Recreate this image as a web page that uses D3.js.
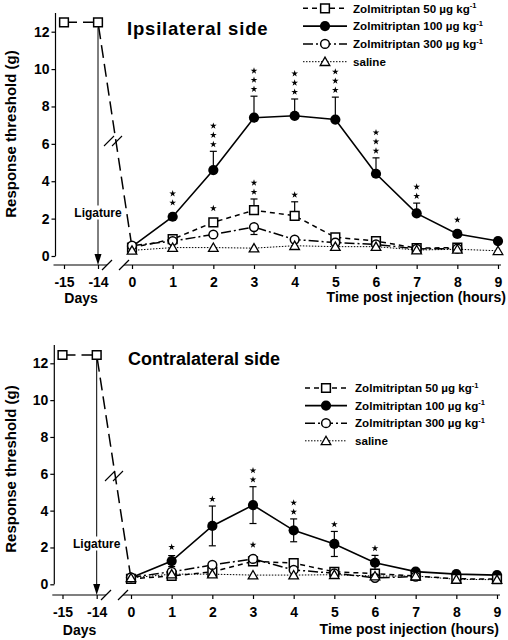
<!DOCTYPE html>
<html><head><meta charset="utf-8">
<script src="https://cdn.jsdelivr.net/npm/d3@7"></script>
<style>
body{margin:0;background:#fff;}
svg text{font-family:"Liberation Sans",Arial,Helvetica,sans-serif;font-weight:bold;fill:#000;}
</style></head><body>
<svg id="chart" width="508" height="640"></svg>
<script>
// ---------------- DATA ----------------
const dayTicks = [-15, -14];
const hourTicks = [0, 1, 2, 3, 4, 5, 6, 7, 8, 9];
const xTickLabels = ["-15", "-14", "0", "1", "2", "3", "4", "5", "6", "7", "8", "9"];
const yTicks = [0, 2, 4, 6, 8, 10, 12];
const legendLabels = ["Zolmitriptan 50 µg kg", "Zolmitriptan 100 µg kg", "Zolmitriptan 300 µg kg", "saline"];
const legendSup = ["-1", "-1", "-1", ""];
const panelTitles = ["Ipsilateral side", "Contralateral side"];
const yLabel = "Response threshold (g)";
const xLabelDays = "Days";
const xLabelHours = "Time post injection (hours)";
const annotation = "Ligature";

// Ipsilateral side
const ipsiBaseline50 = [12.5, 12.5];           // days -15, -14
const ipsi50 = [0.45, 0.9, 1.8, 2.45, 2.15, 1.0, 0.8, 0.42, 0.45];        // hours 0..8
const ipsi50ErrUp = [0, 0, 0, 0.6, 0.75, 0, 0, 0, 0];
const ipsi50Stars = [0, 0, 1, 2, 1, 0, 0, 0, 0];
const ipsi100 = [0.5, 2.1, 4.6, 7.4, 7.5, 7.3, 4.4, 2.28, 1.18, 0.8];     // hours 0..9
const ipsi100ErrUp = [0, 0, 1.0, 1.15, 0.9, 1.2, 0.85, 0.55, 0, 0];
const ipsi100Stars = [0, 2, 3, 3, 3, 3, 3, 2, 1, 0];
const ipsi300 = [0.55, 0.8, 1.15, 1.55, 0.88, 0.72, 0.62, 0.38, 0.4];    // hours 0..8
const ipsi300ErrDown = [0, 0, 0, 0.4, 0, 0, 0, 0, 0];
const ipsiSaline = [0.3, 0.45, 0.45, 0.42, 0.55, 0.5, 0.5, 0.32, 0.36, 0.28];

// Contralateral side
const contraBaseline50 = [12.45, 12.45];
const contra50 = [0.3, 0.45, 0.68, 1.25, 1.15, 0.68, 0.58, 0.45, 0.3, 0.28];
const contra100 = [0.35, 1.26, 3.17, 4.3, 2.93, 2.19, 1.17, 0.69, 0.55, 0.5];
const contra100Err = [0, 0.3, 1.08, 1.0, 0.62, 0.68, 0.4, 0, 0, 0];
const contra100Stars = [0, 1, 1, 2, 2, 1, 1, 0, 0, 0];
const contra300 = [0.38, 0.68, 1.05, 1.38, 0.78, 0.6, 0.35, 0.42];
const contra300Stars = [0, 0, 0, 1, 0, 0, 0, 0];
const contraSaline = [0.35, 0.55, 0.55, 0.5, 0.5, 0.52, 0.45, 0.45, 0.27, 0.25];

// ---------------- BUILD ----------------
function mk(vals, up, down, stars) {
  return vals.map((v, i) => ({h: hourTicks[i], v, up: up ? up[i] : 0, down: down ? down[i] : 0, stars: stars ? stars[i] : 0}));
}
const panels = [
  {
    title: panelTitles[0],
    layout: {x: [64, 98, 132, 498], y0: 256, y12: 31.7, yAxisX: 55.5, xAxisY: 265,
             titleX: 127, titleY: 35, titleSize: 18.5, titleSpacing: 0.8,
             yLabelY: 134, daysY: 303, hoursY: 302, hoursX: 506,
             legX0: 303, legX1: 347, legTX: 353, legY: 8.3, legDY: 17.8,
             ligY: 212, lineBreak: {cx: 113, cy: 141}, axisBreak: [107, 124]},
    baseline: dayTicks.map((d, i) => ({h: d, v: ipsiBaseline50[i]})),
    s50: mk(ipsi50, ipsi50ErrUp, null, ipsi50Stars),
    s100: mk(ipsi100, ipsi100ErrUp, null, ipsi100Stars),
    s300: mk(ipsi300, null, ipsi300ErrDown, null),
    sal: mk(ipsiSaline)
  },
  {
    title: panelTitles[1],
    layout: {x: [62.5, 96.7, 131, 497], y0: 584.3, y12: 363.3, yAxisX: 54.3, xAxisY: 595,
             titleX: 128, titleY: 365, titleSize: 18, titleSpacing: 0,
             yLabelY: 469, daysY: 635, hoursY: 634, hoursX: 499,
             legX0: 305, legX1: 347, legTX: 355, legY: 388, legDY: 17.6,
             ligY: 543, lineBreak: {cx: 114, cy: 476}, axisBreak: [106, 123]},
    baseline: dayTicks.map((d, i) => ({h: d, v: contraBaseline50[i]})),
    s50: mk(contra50),
    s100: mk(contra100, contra100Err, contra100Err, contra100Stars),
    s300: mk(contra300, null, null, contra300Stars),
    sal: mk(contraSaline)
  }
];

const styles = {
  s50: {dash: "5,4", width: 1.5, marker: "square"},
  s100: {dash: null, width: 1.6, marker: "filled"},
  s300: {dash: "10,3,2,3", width: 1.5, marker: "open"},
  sal: {dash: "1.5,1.5", width: 1, marker: "tri"}
};

const svg = d3.select("#chart");
const symSquare = d3.symbol(d3.symbolSquare, 76)();
const symCircleF = d3.symbol(d3.symbolCircle, 82)();
const symCircleO = d3.symbol(d3.symbolCircle, 60)();
const symTri = d3.symbol(d3.symbolTriangle, 40)();
const symStar = d3.symbol(d3.symbolStar, 14)();

function marker(g, type, cx, cy) {
  const t = `translate(${cx},${cy})`;
  if (type === "square") g.append("path").attr("d", symSquare).attr("transform", t).attr("fill", "#fff").attr("stroke", "#000").attr("stroke-width", 1.5);
  else if (type === "filled") g.append("path").attr("d", symCircleF).attr("transform", t).attr("fill", "#000");
  else if (type === "open") g.append("path").attr("d", symCircleO).attr("transform", t).attr("fill", "#fff").attr("stroke", "#000").attr("stroke-width", 1.5);
  else g.append("path").attr("d", symTri).attr("transform", `translate(${cx},${cy + 1})`).attr("fill", "#fff").attr("stroke", "#000").attr("stroke-width", 1.3);
}

panels.forEach(P => {
  const L = P.layout;
  const g = svg.append("g");
  const x = d3.scaleLinear().domain([-15, -14, 0, 9]).range(L.x);
  const y = d3.scaleLinear().domain([0, 12]).range([L.y0, L.y12]);

  // Y axis
  const ya = g.append("g").attr("transform", `translate(${L.yAxisX},0)`)
    .call(d3.axisLeft(y).tickValues(yTicks).tickSize(4).tickPadding(2));
  ya.select(".domain").remove();
  ya.attr("font-size", 14).attr("font-family", null);
  ya.selectAll(".tick line").attr("stroke-width", 1.2);
  g.append("line").attr("x1", L.yAxisX).attr("x2", L.yAxisX).attr("y1", y(0)).attr("y2", y(13))
    .attr("stroke", "#000").attr("stroke-width", 1.2);

  // X axis
  const xa = g.append("g").attr("transform", `translate(0,${L.xAxisY})`)
    .call(d3.axisBottom(x).tickValues(dayTicks.concat(hourTicks)).tickSize(4).tickPadding(8)
      .tickFormat((d, i) => xTickLabels[i]));
  xa.select(".domain").remove();
  xa.attr("font-size", 14).attr("font-family", null);
  xa.selectAll(".tick line").attr("stroke-width", 1.2);
  g.append("line").attr("x1", L.yAxisX - 2).attr("x2", L.axisBreak[0]).attr("y1", L.xAxisY).attr("y2", L.xAxisY)
    .attr("stroke", "#000").attr("stroke-width", 1.2);
  g.append("line").attr("x1", L.axisBreak[1]).attr("x2", x(9) + 3).attr("y1", L.xAxisY).attr("y2", L.xAxisY)
    .attr("stroke", "#000").attr("stroke-width", 1.2);
  L.axisBreak.forEach(bx => {
    g.append("line").attr("x1", bx - 5).attr("x2", bx + 5).attr("y1", L.xAxisY + 5).attr("y2", L.xAxisY - 5)
      .attr("stroke", "#000").attr("stroke-width", 1.2);
  });

  // axis labels
  g.append("text").attr("transform", `translate(16,${L.yLabelY}) rotate(-90)`).attr("text-anchor", "middle")
    .attr("font-size", 15).text(yLabel);
  g.append("text").attr("x", (x(-15) + x(-14)) / 2).attr("y", L.daysY).attr("text-anchor", "middle")
    .attr("font-size", 14).text(xLabelDays);
  g.append("text").attr("x", L.hoursX).attr("y", L.hoursY).attr("text-anchor", "end")
    .attr("font-size", 14).text(xLabelHours);
  g.append("text").attr("x", L.titleX).attr("y", L.titleY).attr("font-size", L.titleSize)
    .attr("letter-spacing", L.titleSpacing).text(P.title);

  // Ligature arrow
  const ligX = x(-14);
  g.append("line").attr("x1", ligX).attr("x2", ligX).attr("y1", y(P.baseline[1].v) + 5).attr("y2", L.xAxisY - 8)
    .attr("stroke", "#000").attr("stroke-width", 1);
  g.append("path").attr("d", `M${ligX - 3.5},${L.xAxisY - 11}L${ligX + 3.5},${L.xAxisY - 11}L${ligX},${L.xAxisY}Z`)
    .attr("fill", "#000");
  const ligRect = g.append("rect").attr("fill", "#fff");
  const lt = g.append("text").attr("x", ligX).attr("y", L.ligY + 4.5).attr("text-anchor", "middle")
    .attr("font-size", 12).text(annotation);
  const bb = lt.node().getBBox();
  ligRect.attr("x", bb.x - 1).attr("y", bb.y).attr("width", bb.width + 2).attr("height", bb.height);

  const line = d3.line().x(d => x(d.h)).y(d => y(d.v));

  // pre-ligature long dashed line
  g.append("path").attr("d", line(P.baseline.concat([P.s50[0]]))).attr("fill", "none").attr("stroke", "#000")
    .attr("stroke-width", 1.5).attr("stroke-dasharray", "13,6");
  // break mark on that line
  [-4, 4].forEach(o => {
    g.append("line").attr("x1", L.lineBreak.cx + o - 5).attr("x2", L.lineBreak.cx + o + 5)
      .attr("y1", L.lineBreak.cy + 5).attr("y2", L.lineBreak.cy - 5).attr("stroke", "#000").attr("stroke-width", 1.1);
  });

  // series lines
  ["sal", "s300", "s50", "s100"].forEach(k => {
    const st = styles[k];
    g.append("path").attr("d", line(P[k])).attr("fill", "none").attr("stroke", "#000")
      .attr("stroke-width", st.width).attr("stroke-dasharray", st.dash);
  });

  // error bars + stars
  ["s50", "s100", "s300"].forEach(k => {
    P[k].forEach(d => {
      const cx = x(d.h);
      if (d.up > 0) {
        g.append("line").attr("x1", cx).attr("x2", cx).attr("y1", y(d.v)).attr("y2", y(d.v + d.up)).attr("stroke", "#000").attr("stroke-width", 1.2);
        g.append("line").attr("x1", cx - 3.5).attr("x2", cx + 3.5).attr("y1", y(d.v + d.up)).attr("y2", y(d.v + d.up)).attr("stroke", "#000").attr("stroke-width", 1.2);
      }
      if (d.down > 0) {
        g.append("line").attr("x1", cx).attr("x2", cx).attr("y1", y(d.v)).attr("y2", y(d.v - d.down)).attr("stroke", "#000").attr("stroke-width", 1.2);
        g.append("line").attr("x1", cx - 3.5).attr("x2", cx + 3.5).attr("y1", y(d.v - d.down)).attr("y2", y(d.v - d.down)).attr("stroke", "#000").attr("stroke-width", 1.2);
      }
      const top = Math.min(y(d.v + d.up), y(d.v) - 7) - 7;
      for (let s = 0; s < d.stars; s++) {
        g.append("path").attr("d", symStar).attr("transform", `translate(${cx},${top - s * 9.2})`).attr("fill", "#000");
      }
    });
  });

  // markers
  P.baseline.forEach(d => marker(g, "square", x(d.h), y(d.v)));
  ["s100", "s50", "s300", "sal"].forEach(k => {
    P[k].forEach(d => marker(g, styles[k].marker, x(d.h), y(d.v)));
  });

  // legend
  ["s50", "s100", "s300", "sal"].forEach((k, i) => {
    const st = styles[k];
    const ly = L.legY + i * L.legDY;
    g.append("line").attr("x1", L.legX0).attr("x2", L.legX1).attr("y1", ly).attr("y2", ly)
      .attr("stroke", "#000").attr("stroke-width", st.width).attr("stroke-dasharray", st.dash);
    marker(g, st.marker, (L.legX0 + L.legX1) / 2, ly);
    const t = g.append("text").attr("x", L.legTX).attr("y", ly + 4.2).attr("font-size", 11.6).text(legendLabels[i]);
    if (legendSup[i]) t.append("tspan").attr("dy", -4.5).attr("font-size", 7.5).text(legendSup[i]);
  });
});
</script>
</body></html>
